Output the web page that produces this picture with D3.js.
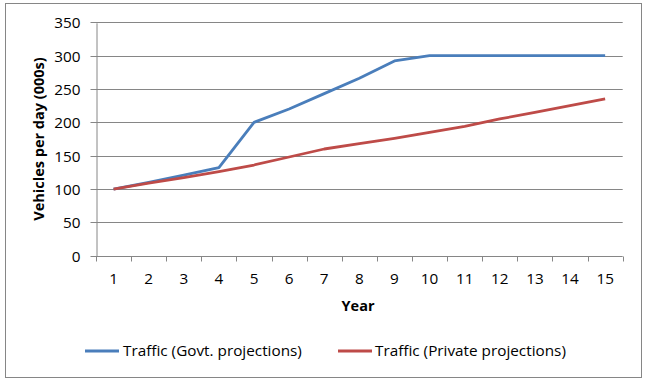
<!DOCTYPE html>
<html><head><meta charset="utf-8">
<script src="https://cdn.jsdelivr.net/npm/d3@7"></script>
<style>
html,body{margin:0;padding:0;background:#fff;}
svg{display:block;font-family:"Open Sans",sans-serif;}
</style></head>
<body>
<svg id="c" width="646" height="382"></svg>
<script>
const years = [1,2,3,4,5,6,7,8,9,10,11,12,13,14,15];
const govt = [100,110,121,132,200,220,243,266,292,300,300,300,300,300,300];
const priv = [100,109,117,126,136,148,160,168,176,185,194,205,215,225,235];
const yTicks = [0,50,100,150,200,250,300,350];
const seriesNames = ["Traffic (Govt. projections)","Traffic (Private projections)"];
const colors = ["#4A7EBB","#BE4B48"];

const svg = d3.select("#c");
const L=96, R=622.7, T=22.3, B=255.7;
const grid="#868686";
const FS=15.3, FSB=14.5;

svg.append("rect").attr("x",5.5).attr("y",3.5).attr("width",636).attr("height",374)
  .attr("fill","#fff").attr("stroke",grid).attr("stroke-width",1);

const x = d3.scaleBand().domain(years).range([L,R]).padding(0);
const y = d3.scaleLinear().domain([0,350]).range([B,T]);

// gridlines
svg.append("g").selectAll("line").data(yTicks.filter(d=>d>0)).join("line")
  .attr("x1",L).attr("x2",R).attr("y1",d=>Math.round(y(d))+0.5).attr("y2",d=>Math.round(y(d))+0.5)
  .attr("stroke",grid).attr("stroke-width",1);

// y axis
const ya = svg.append("g").attr("transform",`translate(${Math.round(L)+0.5},0.5)`)
  .call(d3.axisLeft(y).tickValues(yTicks).tickSize(6).tickPadding(10).tickSizeOuter(0));
ya.select(".domain").attr("stroke",grid);
ya.selectAll(".tick line").attr("stroke",grid);
ya.selectAll(".tick text").attr("font-size",FS).attr("fill","#000").attr("font-family","Open Sans").attr("dy","0.35em");
ya.selectAll(".tick").attr("transform",d=>`translate(0,${Math.round(y(d))})`);

// x axis
const xa = svg.append("g").attr("transform",`translate(0,${Math.round(B)+0.5})`)
  .call(d3.axisBottom(x).tickSize(0).tickPadding(17));
xa.select(".domain").attr("stroke",grid).attr("d",`M${L},0H${R}`);
xa.selectAll(".tick text").attr("font-size",FS).attr("fill","#000").attr("font-family","Open Sans");
// boundary ticks
const bounds = years.map(d=>x(d)).concat([R]);
xa.append("g").selectAll("line").data(bounds).join("line")
  .attr("x1",d=>Math.round(d)+0.5).attr("x2",d=>Math.round(d)+0.5).attr("y1",0).attr("y2",5)
  .attr("stroke",grid);

// lines
const line = d3.line().x((d,i)=>x(years[i])+x.bandwidth()/2).y(d=>y(d));
[govt,priv].forEach((s,k)=>{
  svg.append("path").datum(s).attr("d",line).attr("fill","none")
    .attr("stroke",colors[k]).attr("stroke-width",2.8).attr("stroke-linejoin","round");
});

// axis titles
svg.append("text").attr("transform",`translate(44,${(T+B)/2}) rotate(-90)`)
  .attr("text-anchor","middle").attr("font-size",FSB).attr("font-weight","bold").text("Vehicles per day (000s)");
svg.append("text").attr("x",358).attr("y",311).attr("text-anchor","middle")
  .attr("font-size",FSB).attr("font-weight","bold").text("Year");

// legend
const leg = [{x1:85,x2:119,tx:123},{x1:338,x2:372,tx:375}];
leg.forEach((p,k)=>{
  svg.append("line").attr("x1",p.x1).attr("x2",p.x2).attr("y1",351).attr("y2",351)
    .attr("stroke",colors[k]).attr("stroke-width",3);
  svg.append("text").attr("x",p.tx).attr("y",356).attr("font-size",FS).text(seriesNames[k]);
});
</script>
</body></html>
